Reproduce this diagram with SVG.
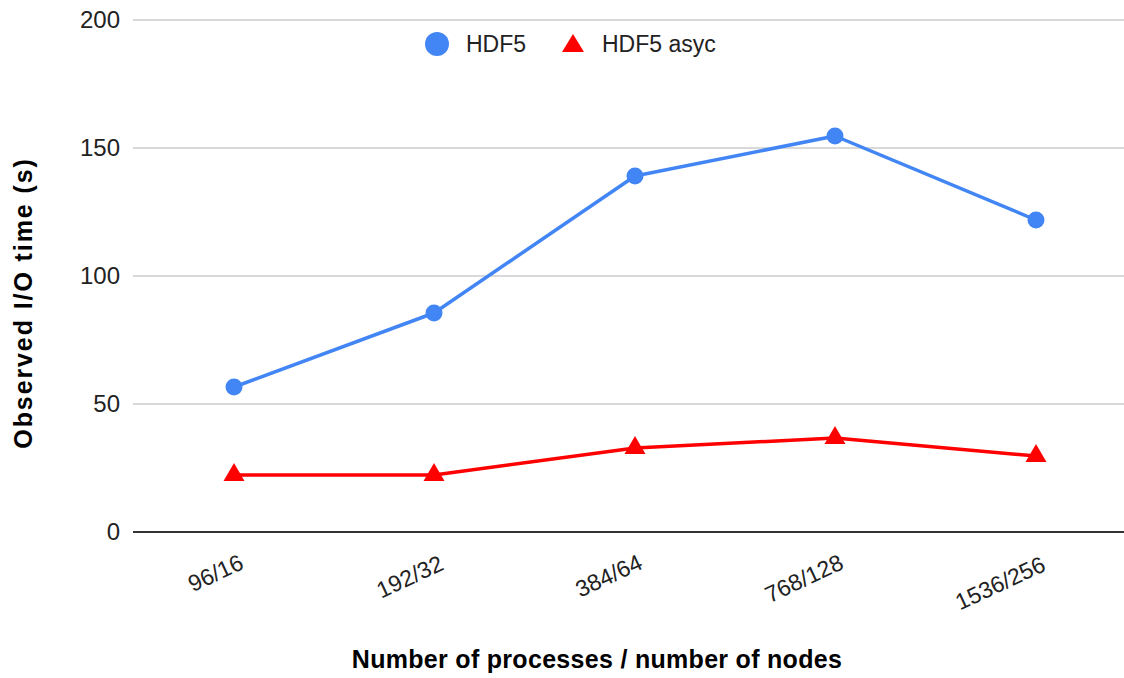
<svg xmlns="http://www.w3.org/2000/svg" width="1124" height="678" viewBox="0 0 1124 678">
  <style>
    text { font-family: "Liberation Sans", Arial, sans-serif; fill: #222; }
    .tick { font-size: 23px; }
    .ytick { font-size: 24px; text-anchor: end; }
    .title { font-size: 25px; font-weight: bold; fill: #000; }
    .grid { stroke: #cccccc; stroke-width: 1.5; }
    .axis { stroke: #333333; stroke-width: 2; }
    .blue-line { fill: none; stroke: #4285f4; stroke-width: 3.5; stroke-linejoin: round; }
    .red-line { fill: none; stroke: #ff0000; stroke-width: 3.5; stroke-linejoin: round; }
    .dot { fill: #4285f4; }
    .tri { fill: #ff0000; }
    .legend { font-size: 23px; }
  </style>
  <defs>
    <circle id="m-dot" r="8.5" class="dot"/>
    <polygon id="m-tri" points="0,-12 -10.5,6 10.5,6" class="tri"/>
  </defs>
  <rect width="1124" height="678" fill="#ffffff"/>

  <!-- gridlines and value axis labels -->
  <g id="gridlines">
    <line class="grid" x1="133" y1="20" x2="1124" y2="20"/>
    <line class="grid" x1="133" y1="148" x2="1124" y2="148"/>
    <line class="grid" x1="133" y1="276" x2="1124" y2="276"/>
    <line class="grid" x1="133" y1="404" x2="1124" y2="404"/>
    <line class="axis" x1="133" y1="532" x2="1124" y2="532"/>
  </g>
  <g id="y-ticks">
    <text class="ytick" x="120" y="28">200</text>
    <text class="ytick" x="120" y="156">150</text>
    <text class="ytick" x="120" y="284">100</text>
    <text class="ytick" x="120" y="412">50</text>
    <text class="ytick" x="120" y="540">0</text>
  </g>

  <!-- category labels -->
  <g id="x-ticks" class="tick">
    <text text-anchor="end" transform="translate(245,568) rotate(-25)">96/16</text>
    <text text-anchor="end" transform="translate(445,569) rotate(-25)">192/32</text>
    <text text-anchor="end" transform="translate(644,568) rotate(-25)">384/64</text>
    <text text-anchor="end" transform="translate(845,568) rotate(-25)">768/128</text>
    <text text-anchor="end" transform="translate(1047,570) rotate(-25)">1536/256</text>
  </g>

  <!-- axis titles -->
  <text id="x-title" class="title" x="597" y="668" text-anchor="middle" letter-spacing="0.3">Number of processes / number of nodes</text>
  <text id="y-title" class="title" text-anchor="middle" letter-spacing="1.9" transform="translate(32,303) rotate(-90)">Observed I/O time (s)</text>

  <!-- series -->
  <g id="connectors">
    <polyline id="hdf5-line" class="blue-line" points="234,387 434,313 635,176 835,136 1036,220"/>
    <polyline id="hdf5-async-line" class="red-line" points="234,475 434,475 635,448 835,438 1036,456"/>
  </g>
  <g id="hdf5">
    <use href="#m-dot" x="234" y="387"/>
    <use href="#m-dot" x="434" y="313"/>
    <use href="#m-dot" x="635" y="176"/>
    <use href="#m-dot" x="835" y="136"/>
    <use href="#m-dot" x="1036" y="220"/>
  </g>
  <g id="hdf5-async">
    <use href="#m-tri" x="234" y="475"/>
    <use href="#m-tri" x="434" y="475"/>
    <use href="#m-tri" x="635" y="448"/>
    <use href="#m-tri" x="835" y="438"/>
    <use href="#m-tri" x="1036" y="456"/>
  </g>

  <!-- legend -->
  <g id="legend">
    <circle cx="437" cy="44" r="12" class="dot"/>
    <text class="legend" x="466" y="52">HDF5</text>
    <polygon points="573,34 562,52 584,52" class="tri"/>
    <text class="legend" x="602" y="52">HDF5 asyc</text>
  </g>
</svg>
